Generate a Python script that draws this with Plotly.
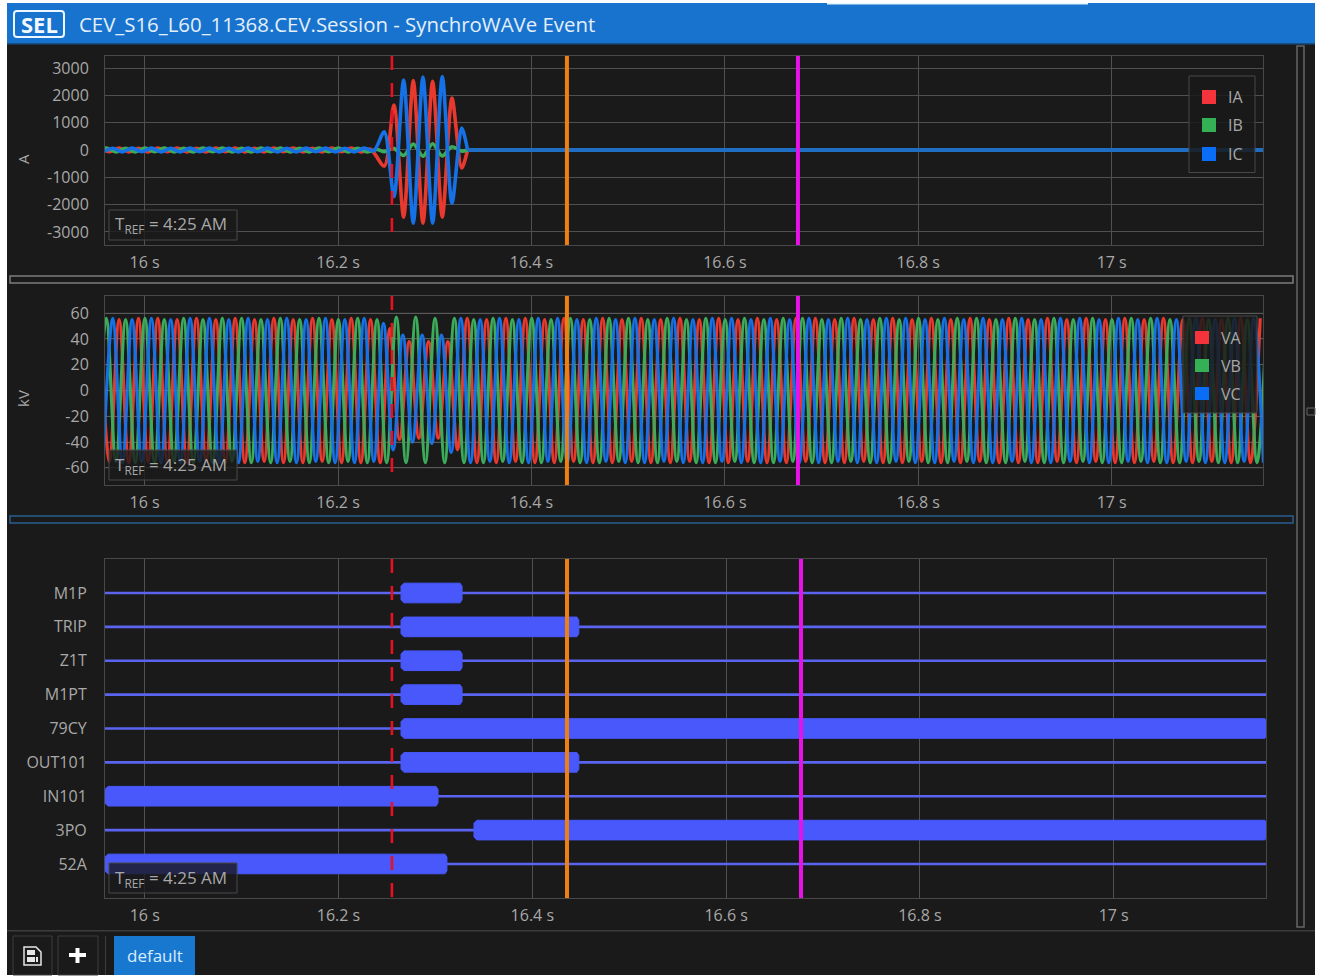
import plotly.graph_objects as go

# Page size in pixels, everything on the window chrome is placed with these
W = 1320
H = 977

# Tick labels
X_TICKS = [16, 16.2, 16.4, 16.6, 16.8, 17]
X_LABELS = ['16 s', '16.2 s', '16.4 s', '16.6 s', '16.8 s', '17 s']
A_TICKS = [3000, 2000, 1000, 0, -1000, -2000, -3000]
KV_TICKS = [60, 40, 20, 0, -20, -40, -60]

# Half cycle between the samples (peak to trough)
HALF_CYCLE = 0.01

# Currents before the fault, sample times start at T0 and go up by HALF_CYCLE
IA_T0 = 15.9536
IB_T0 = 15.9503
IC_T0 = 15.957
IA_PRE = [70, -65, 70, -70, 65, -70, 70, -65, 70, -70,
          65, -70, 70, -65, 70, -70, 65, -70, 70, -65,
          70, -70, 65, -70, 70, -65, 70, -70, 30]
IB_PRE = [-65, 70, -70, 65, -70, 70, -65, 70, -70, 65,
          -70, 70, -65, 70, -70, 65, -70, 70, -65, 70,
          -70, 65, -70, 70, -65, 70, -70, 65, -70, 20]
IC_PRE = [-70, 65, -70, 70, -65, 70, -70, 65, -70, 70,
          -65, 70, -70, 65, -70, 70, -65, 70, -70, 65,
          -70, 70, -65, 70, -70, 65, -70, 70, -30]

# Currents during the fault, all three on one sample grid
FAULT_T0 = 16.2478
IA_FAULT = [-590, 1650, -2460, 2540, -2680, 2520, -2460, 1900, -660]
IB_FAULT = [-60, 50, -200, 220, -230, 230, -220, 120, -40]
IC_FAULT = [670, -1710, 2560, -2680, 2670, -2680, 2690, -1950, 800]
# After the breaker opens the current stays at zero
OPEN_T = [16.334, 17.17]
OPEN_I = [0, 0]

# Voltages, alternating peak and trough of every phase in kV
VA_T0 = 15.9536
VB_T0 = 15.9503
VC_T0 = 15.957
VA = [56, -55, 55, -56, 56, -55, 56, -56, 55, -56,
      56, -55, 55, -56, 56, -56, 55, -55, 56, -56,
      55, -56, 56, -55, 55, -56, 56, -56, 55, -56,
      48, -38, 38, -37, 38, -37, 38, -46, 56, -56,
      55, -56, 56, -55, 56, -56, 55, -56, 56, -55,
      55, -56, 56, -56, 55, -55, 56, -56, 55, -56,
      56, -55, 55, -56, 56, -56, 55, -55, 56, -56,
      55, -56, 56, -55, 56, -56, 55, -56, 56, -55,
      55, -56, 56, -56, 55, -55, 56, -56, 55, -56,
      56, -55, 55, -56, 56, -56, 55, -56, 56, -55,
      55, -56, 56, -55, 55, -56, 56, -56, 55, -55,
      56, -56, 55, -56, 56, -55, 55, -56, 56, -56,
      56]
VB = [-56, 56, -55, 55, -56, 56, -56, 55, -55, 56,
      -56, 55, -56, 56, -55, 56, -56, 55, -56, 56,
      -55, 55, -56, 56, -56, 55, -55, 56, -56, 55,
      -56, 57, -56, 57, -56, 56, -56, 56, -56, 55,
      -56, 56, -55, 55, -56, 56, -56, 55, -55, 56,
      -56, 55, -56, 56, -55, 56, -56, 55, -56, 56,
      -55, 55, -56, 56, -56, 55, -55, 56, -56, 55,
      -56, 56, -55, 56, -56, 55, -56, 56, -55, 55,
      -56, 56, -56, 55, -55, 56, -56, 55, -56, 56,
      -55, 56, -56, 55, -56, 56, -55, 55, -56, 56,
      -56, 55, -55, 56, -56, 55, -56, 56, -55, 56,
      -56, 55, -56, 56, -55, 55, -56, 56, -56, 55,
      -56, 56]
VC = [-56, 56, -56, 55, -55, 56, -56, 55, -56, 56,
      -55, 56, -56, 55, -56, 56, -55, 55, -56, 56,
      -56, 55, -55, 56, -56, 55, -56, 56, -55, 52,
      -46, 43, -40, 43, -41, 43, -48, 56, -56, 55,
      -55, 56, -56, 55, -56, 56, -55, 56, -56, 55,
      -56, 56, -55, 55, -56, 56, -56, 55, -55, 56,
      -56, 55, -56, 56, -55, 56, -56, 55, -56, 56,
      -55, 55, -56, 56, -56, 55, -55, 56, -56, 55,
      -56, 56, -55, 56, -56, 55, -56, 56, -55, 55,
      -56, 56, -56, 55, -55, 56, -56, 55, -56, 56,
      -55, 56, -56, 55, -56, 56, -55, 55, -56, 56,
      -56, 55, -55, 56, -56, 55, -56, 56, -55, 56,
      -56]

# Digital channels and the time each one is asserted (start, end)
CHANNELS = ['M1P', 'TRIP', 'Z1T', 'M1PT', '79CY', 'OUT101', 'IN101', '3PO', '52A']
BAR_START = [16.2645, 16.2645, 16.2645, 16.2645, 16.2645, 16.2645, 15.9590, 16.3398, 15.9590]
BAR_END = [16.3275, 16.4480, 16.3275, 16.3275, 17.1580, 16.4480, 16.3027, 17.1580, 16.3119]

# Cursors, analog and digital panels do not line up exactly in the picture
RED_T = [16.2557, 16.2551]
ORANGE_T = [16.4367, 16.4358]
MAGENTA_T = [16.6756, 16.6773]

# Colours
BG = '#1a1a1a'
GRID = '#505050'
BOX = '#484848'
TXT = '#a8a8a8'
RED = '#e8392f'
GREEN = '#3cab5a'
BLUE = '#1670e6'
FLAT_BLUE = '#1f6ec4'
BAR = '#4858fa'
THIN = '#5a64f0'
CUR_RED = '#e81123'
CUR_ORANGE = '#ee7f12'
CUR_MAGENTA = '#e612e6'
FONT = 'Open Sans'
# Spline rounding of the half cycles
SMOOTHING_I = 0.8
SMOOTHING_V = 1.0


def px(x):
    return x / W


def py(y):
    return 1 - y / H


def times(t0, count):
    return [t0 + i * HALF_CYCLE for i in range(count)]


def rect(x0, y0, x1, y1, fill='rgba(0,0,0,0)', line=None, width=1, layer='above'):
    return dict(type='rect', xref='paper', yref='paper', x0=px(x0), x1=px(x1), y0=py(y0), y1=py(y1),
                fillcolor=fill, line=dict(color=line or 'rgba(0,0,0,0)', width=width if line else 0),
                layer=layer)


def label(x, y, text, size=16, color=TXT, xanchor='left', **kw):
    return dict(xref='paper', yref='paper', x=px(x), y=py(y), text=text, showarrow=False,
                xanchor=xanchor, yanchor='middle', font=dict(size=size, color=color, family=FONT), **kw)


def path_shape(points, color, width=2):
    d = 'M ' + ' L '.join(f'{px(a):.5f},{py(b):.5f}' for a, b in points) + ' Z'
    return dict(type='path', xref='paper', yref='paper', path=d, line=dict(color=color, width=width),
                layer='above')


fig = go.Figure()

# Current traces
for name, color, flat, t0, pre, fault in [('IA', RED, RED, IA_T0, IA_PRE, IA_FAULT),
                                          ('IB', GREEN, GREEN, IB_T0, IB_PRE, IB_FAULT),
                                          ('IC', BLUE, FLAT_BLUE, IC_T0, IC_PRE, IC_FAULT)]:
    fig.add_trace(go.Scatter(
        x=times(t0, len(pre)) + times(FAULT_T0, len(fault)) + OPEN_T[:1],
        y=pre + fault + OPEN_I[:1],
        name=name, mode='lines', xaxis='x', yaxis='y',
        line=dict(color=color, width=3.6, shape='spline', smoothing=SMOOTHING_I),
        showlegend=False
    ))
    fig.add_trace(go.Scatter(
        x=OPEN_T, y=OPEN_I, name=name, mode='lines', xaxis='x', yaxis='y',
        line=dict(color=flat, width=4), showlegend=False
    ))

# Voltage traces
for name, color, t0, values in [('VA', RED, VA_T0, VA), ('VB', GREEN, VB_T0, VB), ('VC', BLUE, VC_T0, VC)]:
    fig.add_trace(go.Scatter(
        x=times(t0, len(values)), y=values,
        name=name, mode='lines', xaxis='x2', yaxis='y2',
        line=dict(color=color, width=3.2, shape='spline', smoothing=SMOOTHING_V),
        showlegend=False
    ))

# Digital channels: a thin line the whole way and a wide block while asserted
BAR_H = 0.29
BEVEL_T = 0.003
BEVEL_Y = 0.09
for i, name in enumerate(CHANNELS):
    fig.add_trace(go.Scatter(
        x=[15.9, 17.2], y=[i, i], mode='lines', name=name, xaxis='x3', yaxis='y3',
        line=dict(color=THIN, width=2.6), showlegend=False
    ))
    s = BAR_START[i]
    e = BAR_END[i]
    fig.add_trace(go.Scatter(
        x=[s, s + BEVEL_T, e - 0.002, e, e, e - 0.002, s + BEVEL_T, s, s],
        y=[i - BAR_H + BEVEL_Y, i - BAR_H, i - BAR_H, i - BAR_H + BEVEL_Y,
           i + BAR_H - BEVEL_Y, i + BAR_H, i + BAR_H, i + BAR_H - BEVEL_Y, i - BAR_H + BEVEL_Y],
        mode='lines', fill='toself', fillcolor=BAR, name=name, xaxis='x3', yaxis='y3',
        line=dict(color=BAR, width=1), showlegend=False
    ))

shapes = [
    rect(7, 3, 1315, 975, fill=BG, layer='below'),
    rect(7, 3, 1315, 43, fill='#1873cf'),
    rect(7, 43, 1315, 44.5, fill='#164f86'),
    rect(827, 3, 1088, 4.5, fill='#e8f6fa'),
    # splitters and scroll bar
    rect(10, 276, 1293, 283, line='#7c7c7c', width=1.5),
    rect(10, 516, 1293, 523, line='#2a5f90', width=1.5),
    rect(1297, 46, 1304, 927, line='#666666', width=1.5),
    rect(1307, 408, 1315, 415, line='#666666', width=1),
    # bottom bar
    rect(7, 930, 1315, 931.5, fill='#3c3c3c'),
    rect(13, 936, 52, 975, line='#3c3c3c'),
    rect(58, 936, 98, 975, line='#3c3c3c'),
    rect(105, 936, 106, 975, fill='#3c3c3c'),
    rect(114, 936, 195, 975, fill='#1878d0'),
    # save icon
    path_shape([(24, 947), (36, 947), (41, 952), (41, 965), (24, 965)], '#e6e6e6', 1.5),
    rect(27, 950, 35, 955, fill='#e6e6e6'),
    rect(27, 957, 35, 962, fill='#e6e6e6'),
    rect(36, 957, 38, 962, fill='#e6e6e6'),
    # plus icon
    rect(69, 953, 86, 957, fill='#ffffff'),
    rect(75.5, 948, 79.5, 963, fill='#ffffff'),
    # SEL logo
    dict(type='path', xref='paper', yref='paper', layer='above', line=dict(color='#eef6ff', width=2),
         path=(f'M {px(17)},{py(11)} L {px(61)},{py(11)} Q {px(64)},{py(11)} {px(64)},{py(14)} '
               f'L {px(64)},{py(34)} Q {px(64)},{py(37)} {px(61)},{py(37)} L {px(17)},{py(37)} '
               f'Q {px(14)},{py(37)} {px(14)},{py(34)} L {px(14)},{py(14)} Q {px(14)},{py(11)} {px(17)},{py(11)} Z')),
]

# Faint gridlines show through the dense voltage traces
for v in KV_TICKS:
    shapes.append(dict(type='line', xref='x2 domain', yref='y2', x0=0, x1=1, y0=v, y1=v,
                       line=dict(color='rgba(130,130,130,0.3)', width=1), layer='above'))

shapes += [
    # legends
    rect(1189, 76, 1255, 172.5, fill='rgba(26,26,26,0.85)', line=BOX),
    rect(1202, 90, 1216, 104, fill='#f5333a'),
    rect(1202, 118, 1216, 132, fill='#35b155'),
    rect(1202, 147, 1216, 161, fill='#0a6df5'),
    rect(1183, 316, 1257, 413, fill='rgba(26,26,26,0.85)', line=BOX),
    rect(1195, 331, 1209, 344, fill='#f5333a'),
    rect(1195, 359, 1209, 372, fill='#35b155'),
    rect(1195, 387, 1209, 400, fill='#0a6df5'),
    # TREF boxes
    rect(109, 210, 237, 240, fill='rgba(26,26,26,0.8)', line=BOX),
    rect(109, 450, 237, 480, fill='rgba(26,26,26,0.8)', line=BOX),
    rect(109, 863, 237, 893, fill='rgba(26,26,30,0.8)', line=BOX),
]

# Cursors on the three panels
for xref, yref, idx in [('x', 'y', 0), ('x2', 'y2', 0), ('x3', 'y3', 1)]:
    for t, color, width, dash in [(RED_T[idx], CUR_RED, 2.6, '14px,13px'),
                                  (ORANGE_T[idx], CUR_ORANGE, 4, 'solid'),
                                  (MAGENTA_T[idx], CUR_MAGENTA, 4, 'solid')]:
        shapes.append(dict(type='line', xref=xref, yref=f'{yref} domain', x0=t, x1=t, y0=1, y1=0,
                           line=dict(color=color, width=width, dash=dash), layer='above'))

annotations = [
    label(39, 24, '<b>SEL</b>', size=22, color='#f2f8ff', xanchor='center'),
    label(77, 24, 'CEV_S16_L60_11368.CEV.Session - SynchroWAVe Event', size=20.4, color='#e4effa'),
    label(155, 955, 'default', size=17, color='#d8ecff', xanchor='center'),
    label(23, 159, 'A', size=15, xanchor='center', textangle=-90),
    label(23, 399, 'kV', size=15, xanchor='center', textangle=-90),
    label(1226, 97, 'IA'), label(1226, 125, 'IB'), label(1226, 154, 'IC'),
    label(1219, 338, 'VA'), label(1219, 366, 'VB'), label(1219, 394, 'VC'),
    label(113, 225, 'T<sub>REF</sub> = 4:25 AM', size=17),
    label(113, 465, 'T<sub>REF</sub> = 4:25 AM', size=17),
    label(113, 878, 'T<sub>REF</sub> = 4:25 AM', size=17),
]

xaxis_style = dict(
    tickmode='array', tickvals=X_TICKS, ticktext=X_LABELS, showgrid=True, gridcolor=GRID, gridwidth=1,
    zeroline=False, showline=True, mirror=True, linecolor=BOX, linewidth=1,
    ticks='outside', ticklen=3, tickcolor='rgba(0,0,0,0)',
    tickfont=dict(size=16, color=TXT, family=FONT)
)
yaxis_style = dict(
    tickmode='array', showgrid=True, gridcolor=GRID, gridwidth=1,
    zeroline=False, showline=True, mirror=True, linecolor=BOX, linewidth=1,
    ticks='outside', ticklen=12, tickcolor='rgba(0,0,0,0)',
    tickfont=dict(size=16, color=TXT, family=FONT)
)

fig.update_layout(
    width=W,
    height=H,
    margin=dict(l=0, r=0, t=0, b=0),
    autosize=False,
    paper_bgcolor='white',
    plot_bgcolor=BG,
    showlegend=False,
    font=dict(family=FONT, color=TXT),
    xaxis=dict(xaxis_style, domain=[px(105), px(1263)], range=[15.959, 17.1565], anchor='y'),
    yaxis=dict(yaxis_style, domain=[py(245), py(56)], range=[-3480, 3443], tickvals=A_TICKS,
               ticktext=[str(v) for v in A_TICKS], anchor='x'),
    xaxis2=dict(xaxis_style, domain=[px(105), px(1263)], range=[15.959, 17.1565], anchor='y2'),
    yaxis2=dict(yaxis_style, domain=[py(485), py(296)], range=[-73.3, 73.3], tickvals=KV_TICKS,
                ticktext=[str(v) for v in KV_TICKS], anchor='x2'),
    xaxis3=dict(xaxis_style, domain=[px(105), px(1266)], range=[15.959, 17.1572], anchor='y3'),
    yaxis3=dict(yaxis_style, domain=[py(898), py(559)], range=[9.005, -1.004], showgrid=False,
                tickvals=list(range(len(CHANNELS))), ticktext=CHANNELS, ticklen=14, anchor='x3'),
    shapes=shapes,
    annotations=annotations
)

fig.write_html("out.html", config={'displayModeBar': False},
               post_script="document.body.style.margin='0';")
